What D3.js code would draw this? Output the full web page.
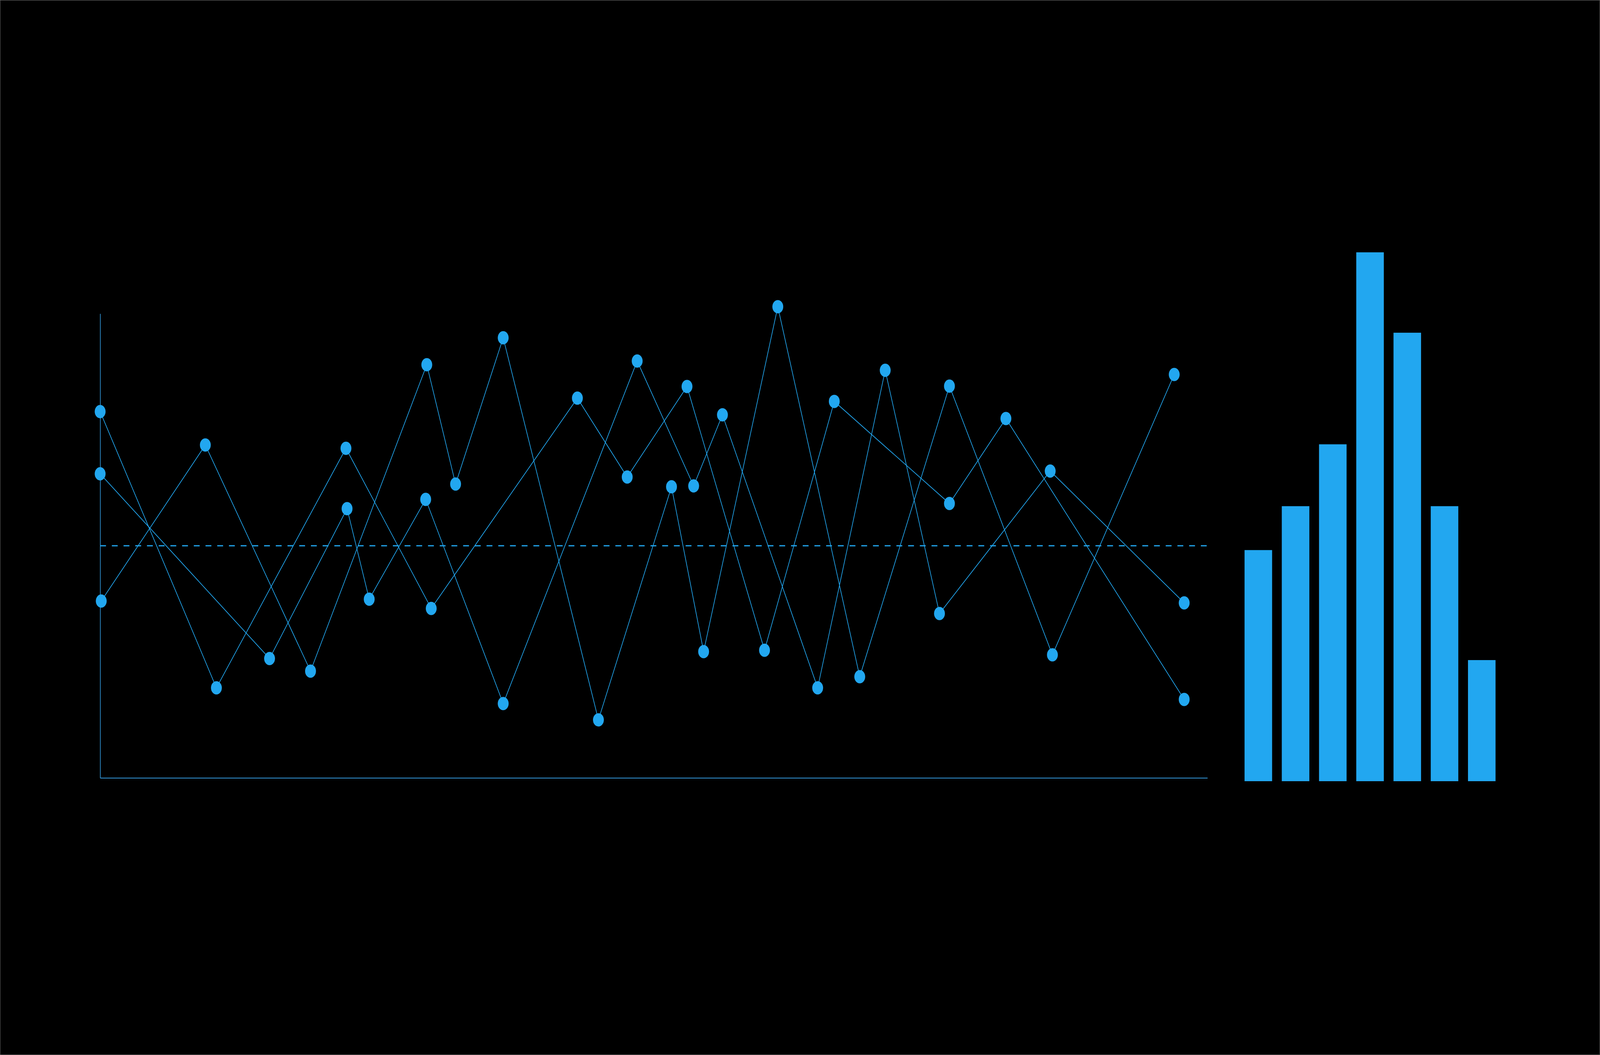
<!DOCTYPE html>
<html>
<head>
<meta charset="utf-8">
<script src="https://cdn.jsdelivr.net/npm/d3@7"></script>
<style>
  html, body { margin: 0; padding: 0; background: #000; overflow: hidden; }
  svg { display: block; width: 100vw; height: 100vh; }
</style>
</head>
<body>
<svg id="chart"></svg>
<script>
// three line series, each with its own x positions (0-100 scale)
const xA = [0, 10.5, 22.2, 29.9, 43.1, 47.6, 53.0, 60.0, 66.3, 76.7, 81.8, 97.9]
const yA = [78.9, 19.4, 71.0, 36.5, 81.8, 64.8, 84.3, 27.5, 81.1, 59.1, 77.4, 16.9]

const xB = [0, 15.3, 22.3, 24.3, 29.4, 36.4, 48.5, 53.6, 56.2, 64.8, 70.9, 75.8, 85.8, 97.9]
const yB = [65.5, 25.7, 58.0, 38.5, 60.0, 16.0, 89.8, 62.9, 78.2, 19.4, 87.8, 35.4, 66.1, 37.7]

const xC = [0.1, 9.5, 19.0, 29.5, 32.1, 36.4, 45.0, 51.6, 54.5, 61.2, 68.6, 76.7, 86.0, 97.0]
const yC = [38.1, 71.7, 23.0, 89.0, 63.3, 94.8, 12.5, 62.7, 27.2, 101.5, 21.8, 84.4, 26.5, 86.9]

// dashed reference line
const referenceValue = 50

// side bars
const barCategories = ["b1", "b2", "b3", "b4", "b5", "b6", "b7"]
const barValues = [43.7, 52.0, 63.7, 100, 84.8, 52.0, 22.9]

const W = 5001, H = 2701
const blue = "#22a7f0"
const axisBlue = "#3399dd"

// drawn in a 5001x2701 box, stretched to whatever the window really is
var svg = d3.select("#chart")
  .attr("viewBox", "0 0 " + W + " " + H)
  .attr("preserveAspectRatio", "none")

// thin frame round the picture
svg.append("rect")
  .attr("x", 0.5).attr("y", 0.5)
  .attr("width", W - 1).attr("height", H - 1)
  .attr("fill", "#000")
  .attr("stroke", "#777")
  .attr("stroke-width", 1)

// setup scales
var xScale = d3.scaleLinear().domain([0, 100]).range([313, 3774])
var yScale = d3.scaleLinear().domain([0, 100]).range([1991.5, 803])

var series = [
  d3.zip(xA, yA),
  d3.zip(xB, yB),
  d3.zip(xC, yC)
]

// axes, domain lines only
svg.append("g")
  .attr("class", "x axis")
  .attr("transform", "translate(0," + yScale(0) + ")")
  .call(d3.axisBottom(xScale).ticks(0).tickSizeOuter(0))

svg.append("g")
  .attr("class", "y axis")
  .attr("transform", "translate(" + xScale(0) + ",0)")
  .call(d3.axisLeft(yScale).ticks(0).tickSizeOuter(0))

svg.selectAll(".axis path")
  .attr("stroke", axisBlue)
  .attr("stroke-width", 2)

// reference line
svg.append("line")
  .attr("x1", xScale(0))
  .attr("x2", xScale(100))
  .attr("y1", yScale(referenceValue))
  .attr("y2", yScale(referenceValue))
  .attr("stroke", blue)
  .attr("stroke-width", 3)
  .attr("stroke-dasharray", "18.3,18.3")

var line = d3.line()
  .x(d => xScale(d[0]))
  .y(d => yScale(d[1]))

svg.selectAll(".series")
  .data(series)
  .enter().append("path")
  .attr("class", "series")
  .attr("d", line)
  .attr("fill", "none")
  .attr("stroke", blue)
  .attr("stroke-width", 2)

// draw dots
svg.selectAll(".dot")
  .data(series.flat())
  .enter().append("circle")
  .attr("class", "dot")
  .attr("r", 17)
  .attr("cx", d => xScale(d[0]))
  .attr("cy", d => yScale(d[1]))
  .attr("fill", blue)

// bars on the right
var xBar = d3.scaleBand()
  .domain(barCategories)
  .range([3890, 4674.5])
  .paddingInner(0.26)
  .paddingOuter(0)

var yBar = d3.scaleLinear().domain([0, 100]).range([2000, 646])

svg.selectAll(".bar")
  .data(barValues)
  .enter().append("rect")
  .attr("class", "bar")
  .attr("x", (d, i) => xBar(barCategories[i]))
  .attr("width", xBar.bandwidth())
  .attr("y", d => yBar(d))
  .attr("height", d => yBar(0) - yBar(d))
  .attr("fill", blue)
</script>
</body>
</html>
